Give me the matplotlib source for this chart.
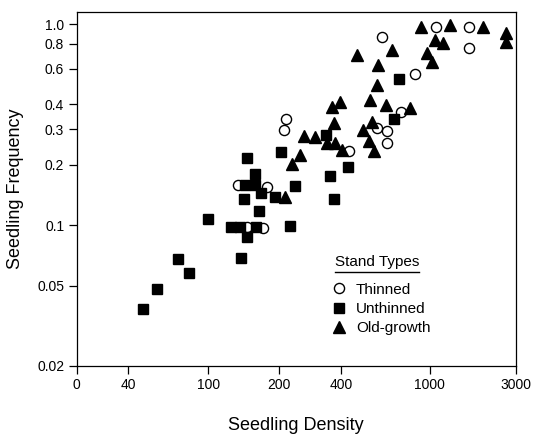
import numpy as np
import matplotlib
matplotlib.use('Agg')
import matplotlib.pyplot as plt
from matplotlib.lines import Line2D

plt.rcParams['font.family'] = ['Liberation Sans', 'DejaVu Sans']

# seedling density / frequency per stand type
thinned_x = [134.1, 177.9, 146.0, 171.1, 215.2, 209.9, 432.7, 580.5, 643.9, 643.9,
             742.2, 855.1, 611.3, 1081.8, 1650.7, 1661.3]
thinned_y = [0.158, 0.155, 0.098, 0.097, 0.336, 0.298, 0.234, 0.304, 0.293, 0.256,
             0.367, 0.568, 0.867, 0.963, 0.963, 0.763]

unthinned_x = [47.2, 55.6, 70.9, 79.8, 99.4, 124.9, 136.7, 159.1, 146.0, 137.7,
               146.0, 157.1, 143.6, 158.3, 167.8, 190.9, 142.2, 163.8, 203.8, 239.4,
               226.3, 354.7, 371.0, 431.3, 339.1, 725.6, 689.0]
unthinned_y = [0.0382, 0.0484, 0.0678, 0.0582, 0.108, 0.0978, 0.0978, 0.0978, 0.0871, 0.0686,
               0.217, 0.180, 0.158, 0.159, 0.145, 0.138, 0.135, 0.118, 0.232, 0.157,
               0.0993, 0.175, 0.136, 0.196, 0.281, 0.532, 0.339]

oldgrowth_x = [917.9, 1296, 1974.6, 2635, 2635, 1075, 1190, 675, 472, 585.3,
               973.3, 1030.8, 578.1, 541.7, 637.3, 812.4, 396.9, 361.6, 369.8, 262.8,
               297.4, 343, 375.2, 404.1, 503.8, 551.2, 534.5, 562.8, 253.3, 230.7, 212.8]
oldgrowth_y = [0.972, 0.994, 0.963, 0.906, 0.819, 0.838, 0.807, 0.744, 0.703, 0.627,
               0.717, 0.649, 0.496, 0.418, 0.398, 0.382, 0.412, 0.389, 0.322, 0.277,
               0.276, 0.258, 0.256, 0.237, 0.298, 0.328, 0.262, 0.234, 0.223, 0.202, 0.138]

x_ticks = [0, 40, 100, 200, 400, 1000, 3000]
y_ticks = [0.02, 0.05, 0.1, 0.2, 0.3, 0.4, 0.6, 0.8, 1.0]
y_labels = ['0.02', '0.05', '0.1', '0.2', '0.3', '0.4', '0.6', '0.8', '1.0']

# the printed x axis is not a clean log axis, so map it piece by piece
tick_u = np.log10(np.array(x_ticks, dtype=float) + 1)
tick_frac = np.array([0, 0.118, 0.2999, 0.4617, 0.6023, 0.8041, 1.0])


def fwd(x):
    x = np.clip(np.asarray(x, dtype=float), 0, None)
    return np.interp(np.log10(x + 1), tick_u, tick_frac)


def inv(f):
    return 10 ** np.interp(np.asarray(f, dtype=float), tick_frac, tick_u) - 1


fig = plt.figure(figsize=(5.33, 4.34), dpi=100)
ax = fig.add_axes([0.1439, 0.1567, 0.8236, 0.8157])
ax.set_xscale('function', functions=(fwd, inv))
ax.set_yscale('log')

ax.plot(thinned_x, thinned_y, 'o', ms=7.3, mfc='white', mec='black', mew=1.0, zorder=2)
ax.plot(unthinned_x, unthinned_y, 's', ms=7.8, mfc='black', mec='black', zorder=3)
ax.plot(oldgrowth_x, oldgrowth_y, '^', ms=8.3, mfc='black', mec='black', zorder=4)

ax.set_xlim(0, 3000)
ax.set_ylim(0.02, 1.15)
ax.set_xticks(x_ticks)
ax.set_xticklabels([str(t) for t in x_ticks])
ax.set_yticks(y_ticks)
ax.set_yticklabels(y_labels)
ax.xaxis.set_minor_locator(matplotlib.ticker.NullLocator())
ax.yaxis.set_minor_locator(matplotlib.ticker.NullLocator())
ax.tick_params(direction='out', length=6, width=0.9, labelsize=10, pad=3)
for s in ax.spines.values():
    s.set_linewidth(0.9)

ax.set_xlabel('Seedling Density', fontsize=13)
ax.set_ylabel('Seedling Frequency', fontsize=13)
ax.xaxis.set_label_coords(0.5, -0.145)
ax.yaxis.set_label_coords(-0.12, 0.5)

handles = [
    Line2D([], [], marker='o', ls='', ms=7.3, mfc='white', mec='black', mew=1.0),
    Line2D([], [], marker='s', ls='', ms=7.6, mfc='black', mec='black'),
    Line2D([], [], marker='^', ls='', ms=8.3, mfc='black', mec='black'),
]
leg = ax.legend(handles, ['Thinned', 'Unthinned', 'Old-growth'],
                loc='upper left', bbox_to_anchor=(0.549, 0.274), frameon=False,
                fontsize=11, handlelength=1.0, handletextpad=0.6,
                labelspacing=0.35, borderpad=0.4)

# legend heading with underline
title = ax.text(0.6834, 0.2946, 'Stand Types', transform=ax.transAxes,
                ha='center', va='center', fontsize=11)
fig.canvas.draw()
tb = title.get_window_extent().transformed(fig.transFigure.inverted())
fig.add_artist(Line2D([tb.x0, tb.x1], [tb.y0 - 0.008, tb.y0 - 0.008],
                      transform=fig.transFigure, color='black', lw=1.0))

fig.savefig('out.png', dpi=100)
